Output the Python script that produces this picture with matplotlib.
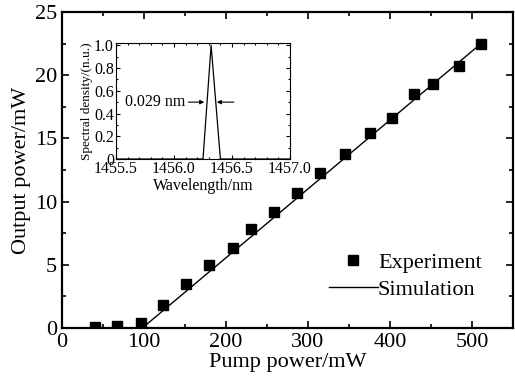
import numpy as np
import matplotlib
matplotlib.use("Agg")
import matplotlib.pyplot as plt
from matplotlib.ticker import MultipleLocator

plt.rcParams["font.family"] = ["Liberation Serif", "DejaVu Serif"]
plt.rcParams["mathtext.fontset"] = "stix"

# ── Data ─────────────────────────────────────────────────────────────────────
pump_exp = [40, 67, 96, 123, 151, 179, 208, 230, 259, 287, 315, 345, 375, 403, 429, 453, 484, 511]
out_exp = [0.1, 0.15, 0.4, 1.8, 3.45, 4.95, 6.35, 7.85, 9.2, 10.7, 12.3, 13.8, 15.4, 16.6, 18.5, 19.3, 20.7, 22.5]

pump_sim = [0, 98, 511]
out_sim = [0, 0, 22.5]

wl_spec = [1455.5, 1456.25, 1456.32, 1456.40, 1457.0]
dens_spec = [0, 0, 1.0, 0, 0]

FS = 16
FS_IN = 11.5

# ── Figure ───────────────────────────────────────────────────────────────────
fig = plt.figure(figsize=(5.15, 3.9), dpi=100)
ax = fig.add_axes([62 / 515, 1 - 328 / 390, (513 - 62) / 515, (328 - 12) / 390])

ax.plot(pump_sim, out_sim, color="black", lw=1.0, label="Simulation", zorder=2)
ax.plot(pump_exp, out_exp, "s", color="black", ms=6.5, label="Experiment", zorder=3)

ax.set_xlim(0, 550)
ax.set_ylim(0, 25)
ax.xaxis.set_major_locator(MultipleLocator(100))
ax.xaxis.set_minor_locator(MultipleLocator(50))
ax.yaxis.set_major_locator(MultipleLocator(5))
ax.yaxis.set_minor_locator(MultipleLocator(2.5))
ax.tick_params(which="both", direction="in", top=True, right=True, labelsize=FS, width=1.2)
ax.tick_params(which="major", length=5)
ax.tick_params(which="minor", length=3)
for s in ax.spines.values():
    s.set_linewidth(1.6)
ax.set_xlabel("Pump power/mW", fontsize=FS, labelpad=1)
ax.set_ylabel("Output power/mW", fontsize=FS, labelpad=3)

h, l = ax.get_legend_handles_labels()
ax.legend([h[1], h[0]], [l[1], l[0]], loc="lower right", bbox_to_anchor=(0.965, 0.04),
          frameon=False, fontsize=FS, handlelength=2.2, handletextpad=0.0,
          borderpad=0.2, labelspacing=0.28)

# ── Inset ────────────────────────────────────────────────────────────────────
ins = fig.add_axes([116 / 515, 1 - 159 / 390, (290 - 116) / 515, (159 - 43) / 390])
ins.plot(wl_spec, dens_spec, color="black", lw=0.9)
ins.set_xlim(1455.5, 1457.0)
ins.set_ylim(0, 1.02)
ins.xaxis.set_minor_locator(MultipleLocator(0.1))
ins.yaxis.set_minor_locator(MultipleLocator(0.1))
ins.set_xticks([1455.5, 1456.0, 1456.5, 1457.0])
ins.set_xticklabels(["1455.5", "1456.0", "1456.5", "1457.0"])
ins.set_yticks([0, 0.2, 0.4, 0.6, 0.8, 1.0])
ins.set_yticklabels(["0", "0.2", "0.4", "0.6", "0.8", "1.0"])
ins.tick_params(which="both", direction="in", top=True, right=True, labelsize=FS_IN, pad=1.5, width=0.8)
ins.tick_params(which="major", length=3)
ins.tick_params(which="minor", length=1.5)
for s in ins.spines.values():
    s.set_linewidth(0.8)
ins.set_xlabel("Wavelength/nm", fontsize=FS_IN, labelpad=1)
ins.set_ylabel("Spectral density/(n.u.)", fontsize=9.5, labelpad=1)

ins.annotate("", xy=(1456.285, 0.5), xytext=(1456.10, 0.5),
             arrowprops=dict(arrowstyle="-|>", color="black", lw=0.8, mutation_scale=6))
ins.annotate("", xy=(1456.345, 0.5), xytext=(1456.54, 0.5),
             arrowprops=dict(arrowstyle="-|>", color="black", lw=0.8, mutation_scale=6))
ins.text(1456.10, 0.5, "0.029 nm", fontsize=FS_IN, ha="right", va="center")

fig.savefig("out.png", dpi=100)
